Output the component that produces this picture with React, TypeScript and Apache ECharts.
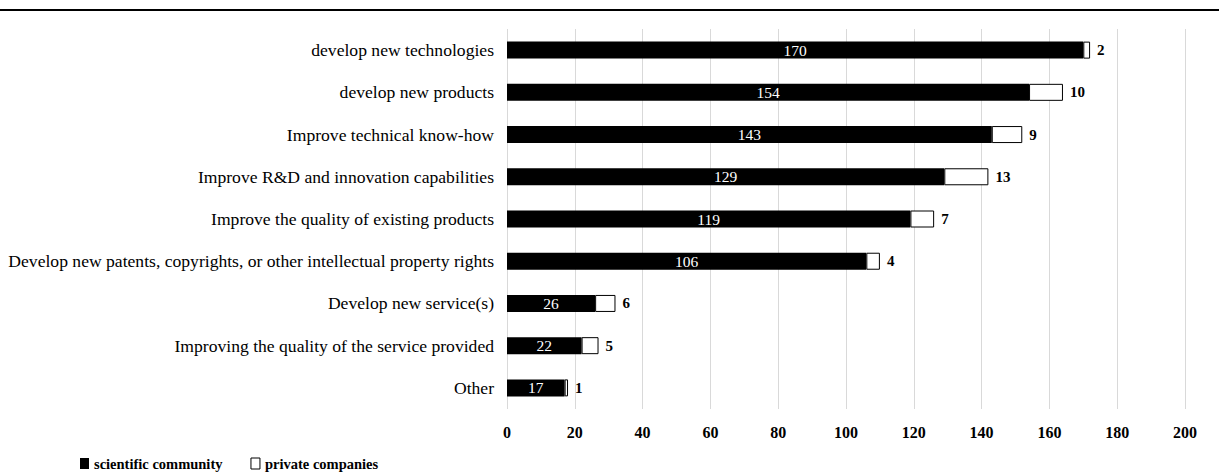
import React, { useEffect, useRef } from "react";
import * as echarts from "echarts";

const categories = [
  "develop new technologies",
  "develop new products",
  "Improve technical know-how",
  "Improve R&D and innovation capabilities",
  "Improve the quality of existing products",
  "Develop new patents, copyrights, or other intellectual property rights",
  "Develop new service(s)",
  "Improving the quality of the service provided",
  "Other",
];
const scientific = [170, 154, 143, 129, 119, 106, 26, 22, 17];
const privateCo = [2, 10, 9, 13, 7, 4, 6, 5, 1];

const FONT = "Liberation Serif";

export default function App() {
  const ref = useRef<HTMLDivElement>(null);
  useEffect(() => {
    if (!ref.current) return;
    const chart = echarts.init(ref.current, null, { renderer: "svg" });
    const cats = [...categories].reverse();
    const sci = [...scientific].reverse();
    const pri = [...privateCo].reverse();
    chart.setOption({
      animation: false,
      textStyle: { fontFamily: FONT },
      graphic: [
        {
          type: "line",
          shape: { x1: 0, y1: 10, x2: 1219, y2: 10 },
          style: { stroke: "#000", lineWidth: 2 },
        },
      ],
      legend: {
        left: 80,
        top: 456,
        padding: 0,
        icon: "rect",
        itemWidth: 9,
        itemHeight: 11,
        itemGap: 28,
        textStyle: { fontFamily: FONT, fontWeight: "bold", fontSize: 14.5, color: "#000", padding: [0, 0, 0, 0] },
        data: [
          { name: "scientific community", itemStyle: { color: "#000" } },
          { name: "private companies", itemStyle: { color: "#fff", borderColor: "#000", borderWidth: 1 } },
        ],
      },
      grid: { left: 507, right: 34, top: 29, height: 380, containLabel: false },
      xAxis: {
        type: "value",
        min: 0,
        max: 200,
        interval: 20,
        axisLine: { show: false },
        axisTick: { show: false },
        splitLine: { show: true, lineStyle: { color: "#d9d9d9", width: 1 } },
        axisLabel: { fontFamily: FONT, fontWeight: "bold", fontSize: 16, color: "#000", margin: 15 },
      },
      yAxis: {
        type: "category",
        data: cats,
        axisLine: { show: false },
        axisTick: { show: false },
        axisLabel: { fontFamily: FONT, fontSize: 17.6, color: "#000", margin: 13 },
      },
      series: [
        {
          name: "scientific community",
          type: "bar",
          stack: "s",
          data: sci,
          barWidth: 17,
          itemStyle: { color: "#000" },
          label: {
            show: true,
            position: "inside",
            color: "#fff",
            fontFamily: FONT,
            fontSize: 15.5,
          },
        },
        {
          name: "private companies",
          type: "bar",
          stack: "s",
          data: pri,
          barWidth: 17,
          itemStyle: { color: "#fff", borderColor: "#000", borderWidth: 1 },
          label: {
            show: true,
            position: "right",
            distance: 7,
            color: "#000",
            fontFamily: FONT,
            fontWeight: "bold",
            fontSize: 15,
          },
        },
      ],
    });
    return () => chart.dispose();
  }, []);
  return <div ref={ref} style={{ width: 1219, height: 475, position: "absolute", left: 0, top: 0 }} />;
}
